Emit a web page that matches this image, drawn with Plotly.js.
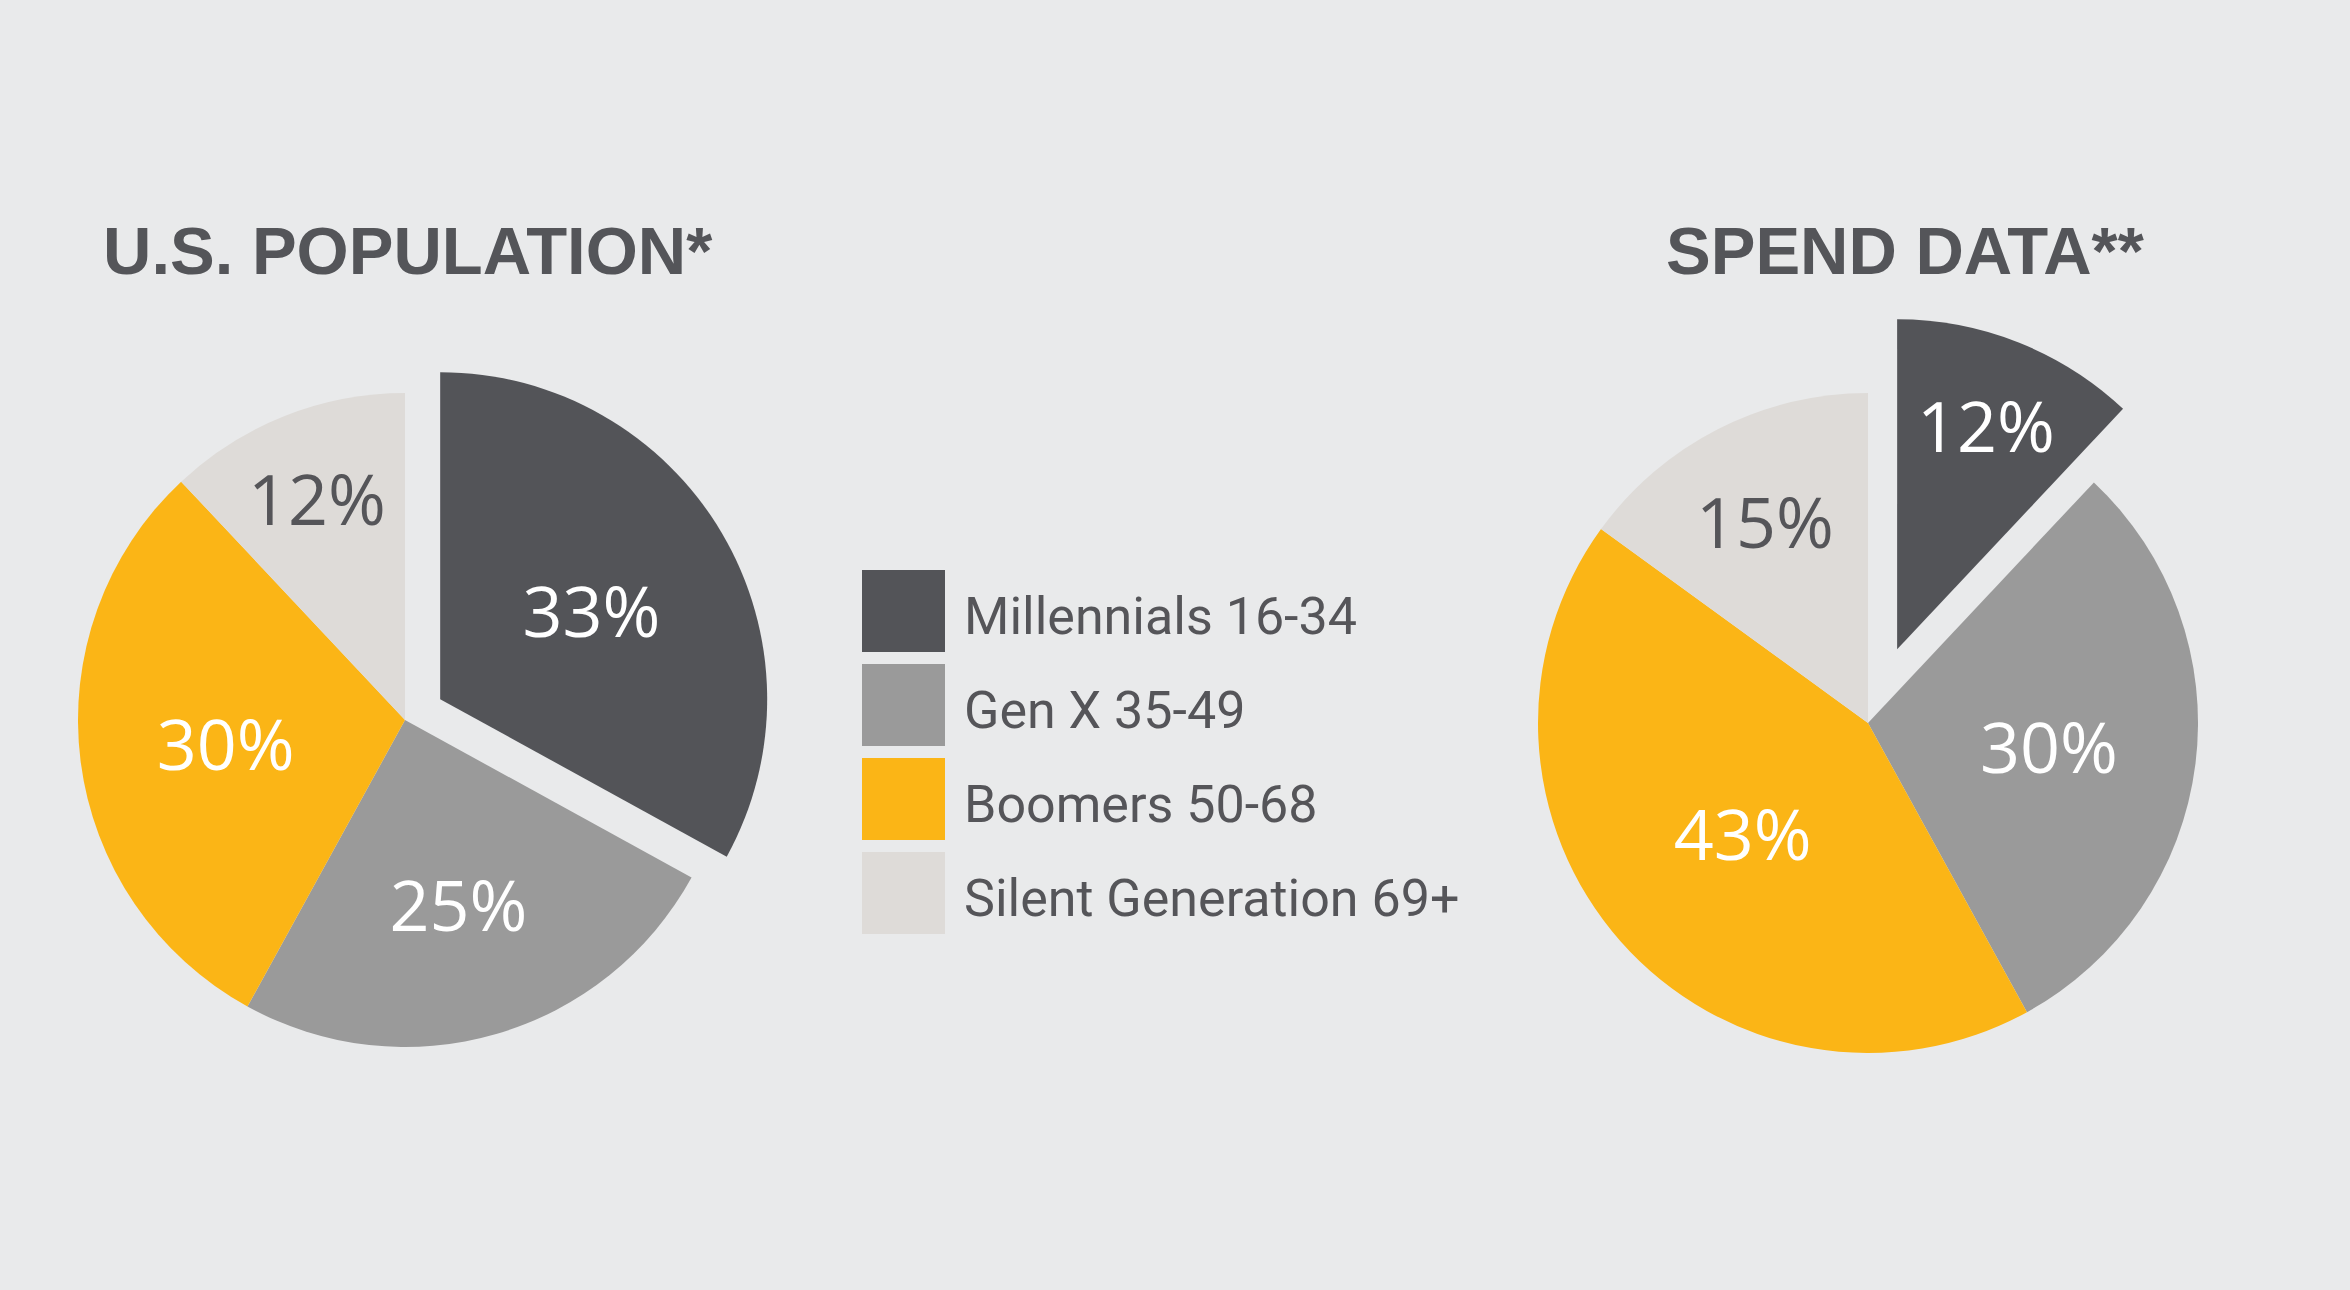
<!DOCTYPE html>
<html>
<head>
<meta charset="utf-8">
<script src="https://cdn.plot.ly/plotly-3.0.1.min.js"></script>
<style>
  html, body { margin: 0; padding: 0; background: #e9eaeb; }
  #chart { width: 2350px; height: 1290px; }
</style>
</head>
<body>
<div id="chart"></div>
<script>
// ---- data ----
const categories = ["Millennials 16-34", "Gen X 35-49", "Boomers 50-68", "Silent Generation 69+"];
const populationValues = [33, 25, 30, 12];
const spendValues = [12, 30, 43, 15];
const sliceColors = ["#535458", "#9a9a9a", "#fbb516", "#dedbd8"];
const labelColors = ["#ffffff", "#ffffff", "#ffffff", "#555559"];
const populationPull = [0.125, 0, 0, 0];
const spendPull = [0.24, 0, 0, 0];
const chartTitles = ["U.S. POPULATION*", "SPEND DATA**"];

const W = 2350, H = 1290;
const px = v => v / W;
const py = v => 1 - v / H;

function pieTrace(values, pull, domain) {
  return {
    type: "pie",
    labels: categories,
    values: values,
    sort: false,
    direction: "clockwise",
    rotation: 0,
    pull: pull,
    marker: { colors: sliceColors, line: { width: 0 } },
    texttemplate: "%{value}%",
    textposition: "inside",
    insidetextorientation: "horizontal",
    insidetextfont: { family: "Open Sans, Roboto, sans-serif", size: 70, color: labelColors },
    hoverinfo: "none",
    showlegend: false,
    domain: domain
  };
}

// left pie: center (405,720), r ~327, pull 0.125
const lHalf = 327 * 1.125;
const leftDomain = { x: [px(405 - lHalf), px(405 + lHalf)], y: [py(720 + lHalf), py(720 - lHalf)] };
// right pie: center (1868,723), r ~330, pull 0.24
const rHalf = 330 * 1.24;
const rightDomain = { x: [px(1868 - rHalf), px(1868 + rHalf)], y: [py(723 + rHalf), py(723 - rHalf)] };

const data = [
  pieTrace(populationValues, populationPull, leftDomain),
  pieTrace(spendValues, spendPull, rightDomain)
];

const annotations = [];
const shapes = [];

// titles
const titleX = [408, 1905];
chartTitles.forEach((t, i) => {
  annotations.push({
    text: "<b>" + t + "</b>",
    xref: "paper", yref: "paper",
    x: px(titleX[i]), y: py(250),
    xanchor: "center", yanchor: "middle",
    showarrow: false,
    font: { family: "Liberation Sans Narrow, Arial Narrow, Liberation Sans, sans-serif", size: 67, color: "#545559" }
  });
});

// legend (manual, large swatches)
const legTop = 570, legStep = 94, sw = 83, legX = 862;
categories.forEach((c, i) => {
  const y0 = legTop + i * legStep;
  shapes.push({
    type: "rect", xref: "paper", yref: "paper",
    x0: px(legX), x1: px(legX + sw),
    y0: py(y0 + sw - 1), y1: py(y0),
    fillcolor: sliceColors[i], line: { width: 0 }
  });
  annotations.push({
    text: c,
    xref: "paper", yref: "paper",
    x: px(962), y: py(y0 + sw / 2 + 5),
    xanchor: "left", yanchor: "middle",
    showarrow: false,
    font: { family: "Roboto, sans-serif", size: 52, color: "#555559" }
  });
});

const layout = {
  width: W, height: H,
  margin: { l: 0, r: 0, t: 0, b: 0 },
  paper_bgcolor: "#e9eaeb",
  plot_bgcolor: "#e9eaeb",
  showlegend: false,
  annotations: annotations,
  shapes: shapes
};

Plotly.newPlot("chart", data, layout, { displayModeBar: false, staticPlot: true });
</script>
</body>
</html>
